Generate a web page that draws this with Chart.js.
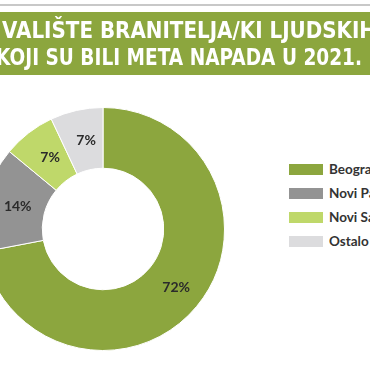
<!DOCTYPE html>
<html>
<head>
<meta charset="utf-8">
<script src="https://cdn.jsdelivr.net/npm/chart.js@4"></script>
<style>
  html, body { margin: 0; padding: 0; background: #fff; }
  #page { position: relative; width: 370px; height: 370px; overflow: hidden; }
  #topline { position: absolute; left: 0; top: 4px; width: 370px; height: 2px; background: #c8c8c8; }
  #banner { position: absolute; left: 0; top: 12px; width: 370px; height: 63px; background: #8ca63e; }
  #banner canvas { position: absolute; left: 0; top: 0; }
  #chartBox { position: absolute; left: -40px; top: 100px; width: 286px; height: 258px; }
  #legend { position: absolute; left: 289px; top: 163px; font-family: Lato, sans-serif; font-weight: bold; font-size: 13.5px; color: #333; }
  .row { height: 24px; display: flex; align-items: flex-start; white-space: nowrap; }
  .box { width: 34px; height: 11px; margin-right: 6px; margin-top: 1px; }
  .row span { line-height: 13px; }
</style>
</head>
<body>
<div id="page">
  <div id="topline"></div>
  <div id="banner"><canvas id="titleCanvas" width="370" height="63"></canvas></div>
  <div id="chartBox"><canvas id="donut"></canvas></div>
  <div id="legend"></div>
</div>
<script>
// data
const titleLines = ["VALIŠTE BRANITELJA/KI LJUDSKIH", "KOJI SU BILI META NAPADA U 2021."];
const cities = ["Beograd", "Novi Pazar", "Novi Sad", "Ostalo"];
const shares = [72, 14, 7, 7];
const sliceColors = ["#8ca63e", "#939393", "#bfd86a", "#dcdcde"];

// title, squeezed to look like a condensed face
const tctx = document.getElementById("titleCanvas").getContext("2d");
tctx.fillStyle = "#fff";
tctx.font = "bold 23px 'DejaVu Sans'";
tctx.textBaseline = "alphabetic";
tctx.fillText(titleLines[0], 2, 26, 374);
tctx.fillText(titleLines[1], -4, 53, 366);

// legend
const legend = document.getElementById("legend");
cities.forEach((c, i) => {
  const row = document.createElement("div");
  row.className = "row";
  row.innerHTML = '<div class="box" style="background:' + sliceColors[i] + '"></div><span>' + c + '</span>';
  legend.appendChild(row);
});

// percent labels on each slice
const sliceLabels = {
  id: "sliceLabels",
  afterDatasetsDraw(chart) {
    const ctx = chart.ctx;
    const meta = chart.getDatasetMeta(0);
    ctx.save();
    ctx.font = "bold 14px Lato";
    ctx.fillStyle = "#2b2b2b";
    ctx.textAlign = "center";
    ctx.textBaseline = "middle";
    meta.data.forEach((arc, i) => {
      const p = arc.tooltipPosition();
      ctx.fillText(shares[i] + "%", p.x + 3, p.y);
    });
    ctx.restore();
  }
};

new Chart(document.getElementById("donut"), {
  type: "doughnut",
  data: {
    labels: cities,
    datasets: [{
      data: shares,
      backgroundColor: sliceColors,
      borderColor: "#fff",
      borderWidth: 1
    }]
  },
  options: {
    responsive: true,
    maintainAspectRatio: false,
    animation: false,
    cutout: "50%",
    layout: { padding: 7 },
    plugins: {
      legend: { display: false },
      tooltip: { enabled: false }
    }
  },
  plugins: [sliceLabels]
});
</script>
</body>
</html>
